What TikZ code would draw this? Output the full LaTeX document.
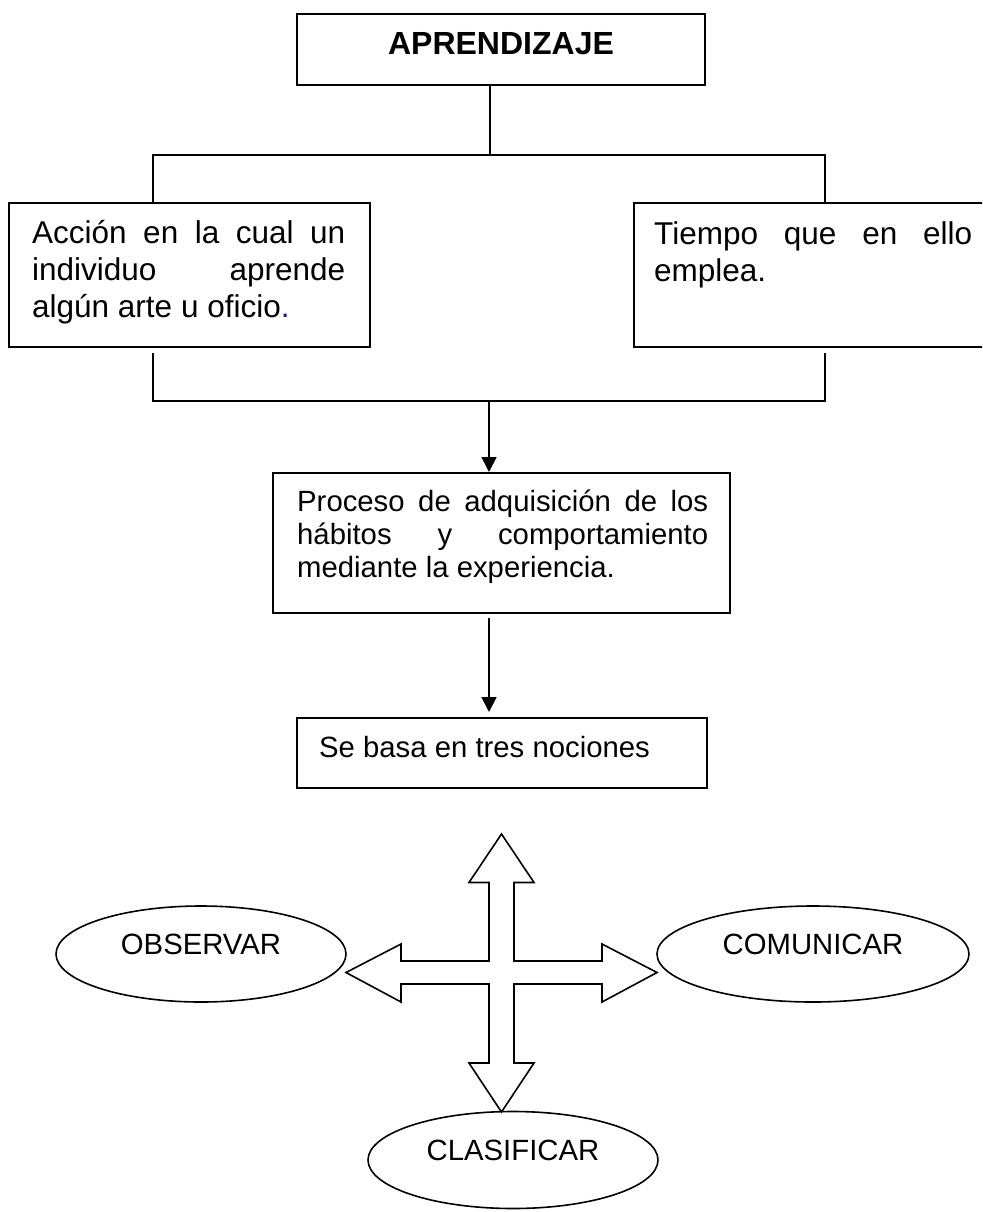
\documentclass[tikz,border=0pt]{standalone}
\usepackage{fontspec}
\setmainfont{Liberation Sans}
\usetikzlibrary{arrows.meta, shapes.geometric}
\tolerance=10000
\hbadness=10000
\definecolor{azulpunto}{RGB}{25,25,140}

\begin{document}
\begin{tikzpicture}[x=1pt, y=-1pt, >={Triangle[width=15pt,length=15pt]},
  caja/.style={draw, line width=2pt, inner sep=0pt},
  elipse/.style={draw, ellipse, line width=1.6pt, inner sep=0pt,
    text height=21pt, text depth=21pt, font=\fontsize{29.3}{34}\selectfont},
  linea/.style={line width=1.8pt},
  grande/.style={font=\fontsize{31.5}{37}\selectfont},
  chico/.style={font=\fontsize{29.3}{33}\selectfont},
  texto/.style={anchor=base west, inner sep=0pt}]
\clip (0,0) rectangle (982,1212);

\node[caja, minimum width=408pt, minimum height=71pt] (apr) at (501,49.5) {};
\node[anchor=base, inner sep=0pt, font=\fontsize{32}{37}\selectfont\bfseries] (tit) at (501,55) {APRENDIZAJE};

\node[caja, minimum width=361pt, minimum height=144pt] (c1) at (189.5,275) {};
\node[caja, minimum width=358pt, minimum height=144pt] (c2) at (813,275) {};
\node[texto, grande] (t1) at (32,243)
  {\parbox[t]{313pt}{Acción en la cual un\linebreak individuo aprende\linebreak algún arte u oficio\textcolor{azulpunto}{.}}};
\node[texto, grande] (t2) at (654,244)
  {\parbox[t]{318pt}{Tiempo que en ello\linebreak emplea.}};

\node[caja, minimum width=457pt, minimum height=140pt] (c3) at (501.5,543) {};
\node[texto, chico] (t3) at (297,511)
  {\parbox[t]{411pt}{Proceso de adquisición de los\linebreak hábitos y comportamiento\linebreak mediante la experiencia.}};

\node[caja, minimum width=410pt, minimum height=70pt] (c4) at (502,753) {};
\node[texto, chico] (t4) at (319,757) {Se basa en tres nociones};

\node[elipse, minimum width=290pt, minimum height=96pt] (obs) at (201,954) {OBSERVAR};
\node[elipse, minimum width=312pt, minimum height=96pt] (com) at (813,954) {COMUNICAR};
\node[elipse, minimum width=290pt, minimum height=97pt] (cla) at (513,1160) {CLASIFICAR};

\coordinate (nudo) at (490,155);
\coordinate (ramaI) at (153,155);
\coordinate (ramaD) at (825,155);
\coordinate (bajaI) at (153,401);
\coordinate (bajaD) at (825,401);
\coordinate (junta) at (489,401);

\draw[linea] (apr.south -| nudo) -- (nudo);
\draw[linea] (c1.north -| ramaI) -- (ramaI) -- (ramaD) -- (c2.north -| ramaD);
\draw[linea, shorten <=5pt, shorten >=5pt] (c1.south -| bajaI) -- (bajaI) -- (bajaD) -- (c2.south -| bajaD);
\draw[linea, ->] (junta) -- (junta |- c3.north);
\draw[linea, ->, shorten <=4pt, shorten >=5pt] (c3.south -| junta) -- (c4.north -| junta);

\begin{scope}[shift={(501.5,972.5)}, line width=1.6pt]
\draw (0,-138.5) -- (32.5,-90) -- (12.5,-90) -- (12.5,-11.5) -- (100.5,-11.5) -- (100.5,-28.5)
  -- (155.5,0) -- (100.5,29.5) -- (100.5,11.5) -- (12.5,11.5) -- (12.5,90.5) -- (32.5,90.5)
  -- (0,139.5) -- (-32.5,90.5) -- (-12.5,90.5) -- (-12.5,11.5) -- (-100.5,11.5) -- (-100.5,29.5)
  -- (-155.5,0) -- (-100.5,-28.5) -- (-100.5,-11.5) -- (-12.5,-11.5) -- (-12.5,-90) -- (-32.5,-90) -- cycle;
\end{scope}
\end{tikzpicture}
\end{document}
